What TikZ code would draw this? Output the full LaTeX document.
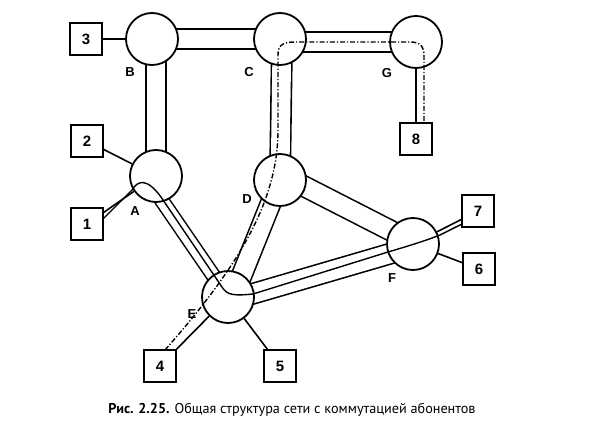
\documentclass[tikz,border=0pt]{standalone}
\usepackage{fontspec}
\setmainfont{Liberation Sans}
\newfontfamily\capfont{PT Sans}
\usetikzlibrary{calc}
\pgfdeclarelayer{bg}\pgfdeclarelayer{fg}\pgfsetlayers{bg,main,fg}
\tikzset{
 sw/.style={circle,draw,fill=white,line width=1.8pt,minimum size=52pt,inner sep=0pt},
 term/.style={draw,fill=white,line width=1.8pt,minimum size=32pt,inner sep=0pt,font=\fontsize{15}{15}\selectfont\bfseries},
 lbl/.style={font=\fontsize{13}{13}\selectfont\bfseries,inner sep=0pt},
 tube/.style={line width=1.6pt,double=white,double distance=18.7pt},
 narrowtube/.style={line width=1.5pt,double=white,double distance=12.3pt},
 link/.style={line width=1.6pt},
 route/.style={line width=1.4pt},
 dashroute/.style={line width=1.4pt,dash pattern=on 5pt off 2pt on 1.2pt off 2pt},
}
\begin{document}
\begin{tikzpicture}[x=1pt,y=-1pt]
\useasboundingbox (0,0) rectangle (613,428);
% switching nodes
\node[sw] (B) at (152,39) {};
\node[sw] (C) at (280,39) {};
\node[sw] (G) at (416,42) {};
\node[sw] (A) at (156,176) {};
\node[sw] (D) at (280,180) {};
\node[sw] (F) at (413,244) {};
\node[sw] (E) at (228,297) {};
% terminals
\node[term] (t3) at (86,39) {3};
\node[term] (t2) at (87,141) {2};
\node[term] (t1) at (87,224) {1};
\node[term] (t8) at (416,139) {8};
\node[term] (t4) at (160,366) {4};
\node[term] (t5) at (280,366) {5};
\node[term] (t7) at (478,211) {7};
\node[term] (t6) at (479,269) {6};
% labels
\node[lbl] (lB) at (130,72) {B};
\node[lbl] (lC) at (249,72) {C};
\node[lbl] (lG) at (387,73) {G};
\node[lbl] (lA) at (135,211) {A};
\node[lbl] (lD) at (247,199) {D};
\node[lbl] (lF) at (392,278) {F};
\node[lbl] (lE) at (192,314) {E};
% trunks
\begin{pgfonlayer}{bg}
\draw[tube] (B.center) -- (C.center);
\draw[tube] ($(C.center)+(0,3)$) -- (G.center);
\draw[tube] ($(B.center)+(4,0)$) -- (A.center);
\draw[tube] ($(C.center)+(2,0)$) -- (D.center);
\draw[tube] (D.center) -- ($(E.center)+(5,0)$);
\draw[tube] ($(D.center)+(0,-6)$) -- ($(F.center)+(0,-2)$);
\draw[tube] ($(E.center)+(0,4)$) -- ($(F.center)+(0,3)$);
\draw[narrowtube] ($(A.center)+(-11,0)$) -- (E.center);
\end{pgfonlayer}
% subscriber lines
\draw[link] (t3) -- (B);
\draw[link] (t2) -- (A);
\draw[link] (t1) -- (A);
\draw[link] (G) -- (t8);
\draw[link] (t4) -- (E);
\draw[link] (t5) -- (E);
\draw[link] (t7) -- (F);
\draw[link] (t6) -- (F);
% connections
\coordinate (s1) at (103,219);
\coordinate (s7) at (462,224);
\coordinate (s4) at (165,350);
\coordinate (s8) at (424,123);
\begin{pgfonlayer}{fg}
\draw[route] (s1) -- (132,190) .. controls (138,180) and (147,178) .. (161,197) -- (222,287) .. controls (227,295) and (233,296) .. (253,294) -- (388,252) .. controls (405,247) and (425,241) .. (440,235) -- (s7);
\draw[dashroute] (s4) .. controls (240,265) and (278,200) .. (278,130) -- (278,55) .. controls (278,45) and (283,42) .. (295,42) -- (410,42) .. controls (420,42) and (424,46) .. (424,56) -- (s8);
\end{pgfonlayer}
% caption
\node (cap) at (292,410) {\capfont\fontsize{14.2}{14.2}\selectfont\textbf{Рис. 2.25.} Общая структура сети с коммутацией абонентов};
\end{tikzpicture}
\end{document}
